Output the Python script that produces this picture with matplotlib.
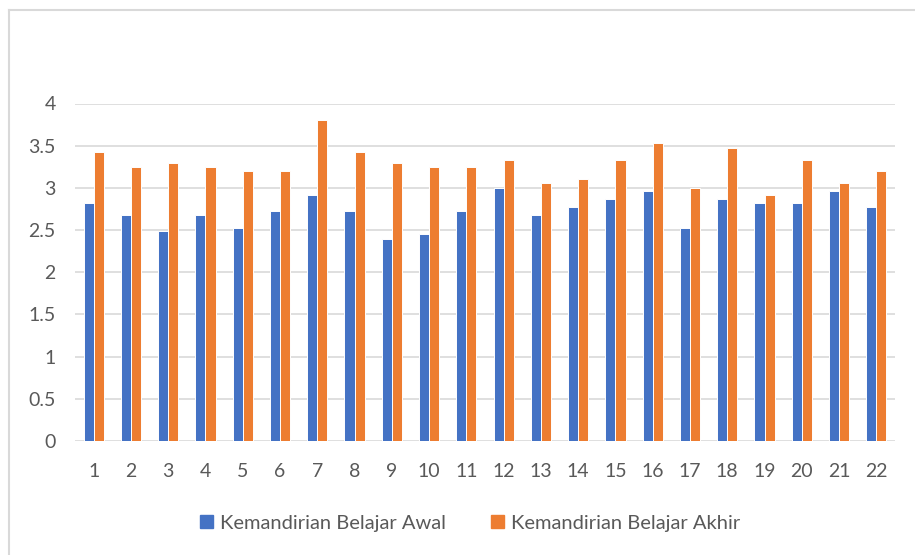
import matplotlib
matplotlib.use("Agg")
import matplotlib.pyplot as plt
import numpy as np
from matplotlib.lines import Line2D

plt.rcParams['font.family'] = ['Lato', 'DejaVu Sans']

categories = [str(i) for i in range(1, 23)]
awal = [2.82, 2.68, 2.49, 2.68, 2.53, 2.73, 2.92, 2.73, 2.40, 2.45, 2.73,
        3.00, 2.68, 2.77, 2.87, 2.96, 2.53, 2.87, 2.82, 2.82, 2.96, 2.77]
akhir = [3.43, 3.25, 3.29, 3.25, 3.20, 3.20, 3.80, 3.43, 3.29, 3.25, 3.25,
         3.33, 3.06, 3.11, 3.33, 3.53, 3.00, 3.47, 2.92, 3.33, 3.06, 3.20]
series_names = ["Kemandirian Belajar Awal", "Kemandirian Belajar Akhir"]
yticks = [0, 0.5, 1, 1.5, 2, 2.5, 3, 3.5, 4]
ytick_labels = ["0", "0.5", "1", "1.5", "2", "2.5", "3", "3.5", "4"]

blue = "#4472C4"
orange = "#ED7D31"
grid = "#D9D9D9"
text = "#595959"

fig = plt.figure(figsize=(9.15, 5.55), dpi=100)
ax = fig.add_axes([75 / 915, 1 - 441 / 555, 820 / 915, 337.5 / 555])

x = np.arange(len(categories))
w = 0.27
ax.bar(x - 0.135, awal, width=w, color=blue, edgecolor="white", linewidth=0.7, zorder=3)
ax.bar(x + 0.135, akhir, width=w, color=orange, edgecolor="white", linewidth=0.7, zorder=3)

ax.set_xlim(-0.5, len(categories) - 0.5)
ax.set_ylim(0, 4)
ax.set_yticks(yticks)
ax.set_yticklabels(ytick_labels)
ax.set_xticks(x)
ax.set_xticklabels(categories)
ax.tick_params(axis="both", length=0, labelsize=14, colors=text)
ax.tick_params(axis="y", pad=14)
ax.tick_params(axis="x", pad=16)
for v in yticks:
    ax.axhline(v, color=grid, linewidth=1.2, zorder=1)
for s in ax.spines.values():
    s.set_visible(False)

# chart frame: top and left border
fig.add_artist(Line2D([9 / 915, 9 / 915], [0, 1 - 10 / 555], transform=fig.transFigure,
                      color=grid, linewidth=1.5))
fig.add_artist(Line2D([9 / 915, 1], [1 - 10 / 555, 1 - 10 / 555], transform=fig.transFigure,
                      color=grid, linewidth=1.5))

handles = [plt.Rectangle((0, 0), 1, 1, color=blue), plt.Rectangle((0, 0), 1, 1, color=orange)]
leg = fig.legend(handles, series_names, loc="center", bbox_to_anchor=(470 / 915, 1 - 523 / 555),
                 ncol=2, frameon=False, fontsize=14.5, handlelength=0.65, handleheight=0.65,
                 handletextpad=0.35, columnspacing=2.2)
for t in leg.get_texts():
    t.set_color(text)

fig.savefig("out.png", dpi=100)
